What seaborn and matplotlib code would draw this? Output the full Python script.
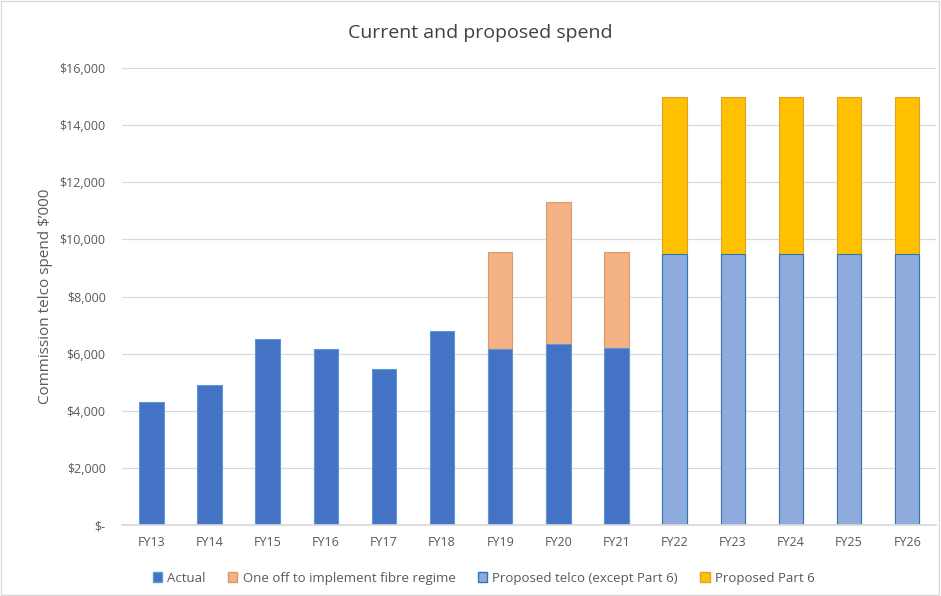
import numpy as np
import pandas as pd
import matplotlib
matplotlib.use("Agg")
import matplotlib.pyplot as plt
import seaborn as sns
from matplotlib.patches import Patch, Rectangle

years = ["FY13", "FY14", "FY15", "FY16", "FY17", "FY18", "FY19", "FY20",
         "FY21", "FY22", "FY23", "FY24", "FY25", "FY26"]
actual = [4300, 4900, 6500, 6150, 5450, 6800, 6150, 6350, 6200, 0, 0, 0, 0, 0]
one_off = [0, 0, 0, 0, 0, 0, 3400, 4950, 3350, 0, 0, 0, 0, 0]
proposed_telco = [0, 0, 0, 0, 0, 0, 0, 0, 0, 9500, 9500, 9500, 9500, 9500]
proposed_part6 = [0, 0, 0, 0, 0, 0, 0, 0, 0, 5500, 5500, 5500, 5500, 5500]

series_names = ["Actual", "One off to implement fibre regime",
                "Proposed telco (except Part 6)", "Proposed Part 6"]
series_vals = [actual, one_off, proposed_telco, proposed_part6]
face_colors = ["#4472C4", "#F4B183", "#8FAADC", "#FFC000"]
edge_colors = ["#5B9BD5", "#D99A6C", "#2E75B6", "#E0A030"]

sns.set_theme(style="white")
plt.rcParams['font.family'] = ['Open Sans', 'DejaVu Sans']

fig = plt.figure(figsize=(9.41, 5.96), dpi=100)
ax = fig.add_axes([0.130, 0.119, 0.865, 0.767])

vals = np.array(series_vals, dtype=float)
cum = np.cumsum(vals, axis=0)

# draw from top-most cumulative downward so lower segments overlay
for i in range(len(series_names) - 1, -1, -1):
    c = cum[i].copy()
    c[vals[i] == 0] = np.nan
    df = pd.DataFrame({"year": years, "value": c})
    sns.barplot(data=df, x="year", y="value", order=years, ax=ax,
                color=face_colors[i], saturation=1, width=0.42,
                edgecolor=edge_colors[i], linewidth=0.8, errorbar=None)

ax.set_xlim(-0.5, len(years) - 0.5)
ax.set_ylim(0, 16000)
ax.set_yticks(np.arange(0, 16001, 2000))
ax.set_yticklabels(["$-"] + [f"${v:,}" for v in range(2000, 16001, 2000)])
ax.yaxis.grid(True, color="#D9D9D9", linewidth=0.9)
ax.set_axisbelow(True)
for s in ["top", "right", "left"]:
    ax.spines[s].set_visible(False)
ax.spines["bottom"].set_color("#D9D9D9")
ax.tick_params(axis="both", length=0, labelsize=9, colors="#595959", pad=8)
ax.tick_params(axis="y", pad=12)
ax.set_xlabel("")
ax.set_ylabel("Commission telco spend $\u2019000", fontsize=11, color="#595959", labelpad=5)

fig.text(0.51, 0.945, "Current and proposed spend", ha="center", va="center",
         fontsize=14, color="#404040")

handles = [Patch(facecolor=face_colors[i], edgecolor=edge_colors[i], label=series_names[i])
           for i in range(len(series_names))]
fig.legend(handles=handles, loc="center", bbox_to_anchor=(0.514, 0.03), ncol=4,
           frameon=False, fontsize=9.5, labelcolor="#595959", handlelength=0.7,
           handleheight=0.7, handletextpad=0.4, columnspacing=1.7)

fig.patches.append(Rectangle((0.001, 0.001), 0.997, 0.997, transform=fig.transFigure,
                             fill=False, edgecolor="#D9D9D9", linewidth=1))

fig.savefig("out.png", dpi=100, facecolor="white")
